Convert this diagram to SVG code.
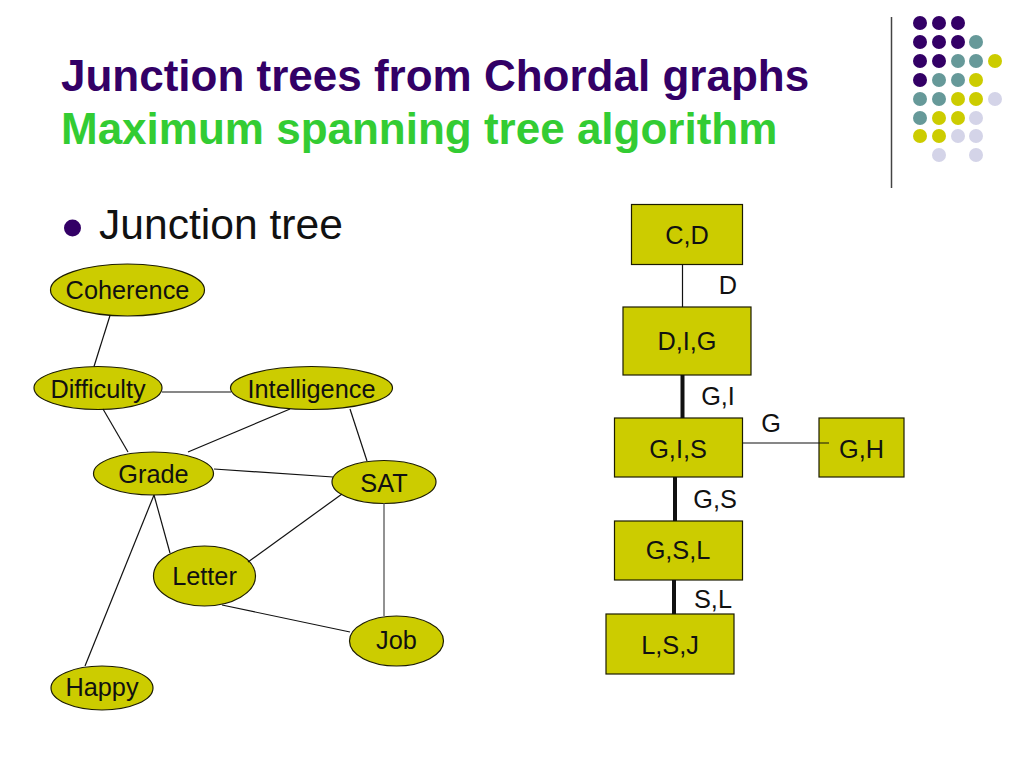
<svg xmlns="http://www.w3.org/2000/svg" width="1024" height="768" viewBox="0 0 1024 768">
<style>
text{font-family:"Liberation Sans",Arial,sans-serif}
.n ellipse,.n rect{fill:#cccc00;stroke:#1c1c00;stroke-width:1.2}
.n text,.l{font-size:25.300px;fill:#111;text-anchor:middle}
.c line{stroke:#111;stroke-width:1.2}
.c line.b{stroke-width:4}
.c line.g{stroke:#777;stroke-width:1.600}
.p{fill:#330066}.t{fill:#669999}.y{fill:#cccc00}.v{fill:#d4d4e8}
</style>
<rect width="1024" height="768" fill="#fff"/>
<text x="61" y="90.500" font-size="44" font-weight="700" fill="#330066">Junction trees from Chordal graphs</text>
<text x="61" y="144" font-size="44" font-weight="700" fill="#33cc33">Maximum spanning tree algorithm</text>
<circle cx="72.500" cy="228" r="8.500" fill="#330066"/>
<text x="99" y="239" font-size="42.600" fill="#111">Junction tree</text>
<g id="decor">
<line x1="891.500" y1="17" x2="891.500" y2="188" stroke="#444" stroke-width="1.500"/>
<g class="p"><circle cx="920" cy="23" r="7"/><circle cx="939" cy="23" r="7"/><circle cx="958" cy="23" r="7"/><circle cx="920" cy="42" r="7"/><circle cx="939" cy="42" r="7"/><circle cx="958" cy="42" r="7"/><circle cx="920" cy="61" r="7"/><circle cx="939" cy="61" r="7"/><circle cx="920" cy="80" r="7"/></g>
<g class="t"><circle cx="976" cy="42" r="7"/><circle cx="958" cy="61" r="7"/><circle cx="976" cy="61" r="7"/><circle cx="939" cy="80" r="7"/><circle cx="958" cy="80" r="7"/><circle cx="920" cy="99" r="7"/><circle cx="939" cy="99" r="7"/><circle cx="920" cy="118" r="7"/></g>
<g class="y"><circle cx="995" cy="61" r="7"/><circle cx="976" cy="80" r="7"/><circle cx="958" cy="99" r="7"/><circle cx="976" cy="99" r="7"/><circle cx="939" cy="118" r="7"/><circle cx="958" cy="118" r="7"/><circle cx="920" cy="136" r="7"/><circle cx="939" cy="136" r="7"/></g>
<g class="v"><circle cx="995" cy="99" r="7"/><circle cx="976" cy="118" r="7"/><circle cx="958" cy="136" r="7"/><circle cx="976" cy="136" r="7"/><circle cx="939" cy="155" r="7"/><circle cx="976" cy="155" r="7"/></g>
</g>
<g id="coherence" class="n"><ellipse cx="127.500" cy="290" rx="77" ry="26"/><text x="127.500" y="299">Coherence</text></g>
<g id="difficulty" class="n"><ellipse cx="98" cy="388" rx="64" ry="21.500"/><text x="98" y="398">Difficulty</text></g>
<g id="intelligence" class="n"><ellipse cx="311.500" cy="388" rx="81" ry="21.500"/><text x="311.500" y="398">Intelligence</text></g>
<g id="grade" class="n"><ellipse cx="153.500" cy="473.500" rx="60" ry="21.500"/><text x="153.500" y="483">Grade</text></g>
<g id="sat" class="n"><ellipse cx="384" cy="482" rx="52" ry="21.500"/><text x="384" y="492">SAT</text></g>
<g id="letter" class="n"><ellipse cx="204.500" cy="576" rx="51" ry="30"/><text x="204.500" y="585">Letter</text></g>
<g id="job" class="n"><ellipse cx="396.500" cy="641" rx="47" ry="25"/><text x="396.500" y="649">Job</text></g>
<g id="happy" class="n"><ellipse cx="102" cy="688" rx="51" ry="22"/><text x="102" y="696">Happy</text></g>
<g id="cd" class="n"><rect x="631.500" y="204.500" width="111" height="60"/><text x="687" y="244">C,D</text></g>
<g id="dig" class="n"><rect x="623" y="307" width="128" height="68"/><text x="687" y="350">D,I,G</text></g>
<g id="gis" class="n"><rect x="614.500" y="418" width="128" height="59"/><text x="678" y="458">G,I,S</text></g>
<g id="gh" class="n"><rect x="819" y="418" width="85" height="59"/><text x="861.500" y="458">G,H</text></g>
<g id="gsl" class="n"><rect x="614.500" y="521" width="128" height="59"/><text x="678" y="559">G,S,L</text></g>
<g id="lsj" class="n"><rect x="606" y="614" width="128" height="60"/><text x="670" y="654">L,S,J</text></g>
<g id="connectors" class="c">
<line x1="110" y1="315.500" x2="94" y2="366.500"/>
<line x1="162" y1="392" x2="231" y2="392"/>
<line x1="103" y1="409" x2="128" y2="452"/>
<line x1="290" y1="409" x2="188" y2="452"/>
<line x1="350" y1="409" x2="367" y2="461"/>
<line x1="214" y1="469" x2="333" y2="477"/>
<line x1="154" y1="495" x2="85" y2="666"/>
<line x1="154" y1="495" x2="170" y2="553"/>
<line x1="342" y1="494" x2="248" y2="562"/>
<line class="g" x1="384" y1="503.500" x2="384" y2="616"/>
<line x1="222" y1="605" x2="350" y2="632"/>
<line x1="682.500" y1="264.500" x2="682.500" y2="307"/>
<line class="b" x1="682.500" y1="375" x2="682.500" y2="418"/>
<line x1="742.500" y1="443" x2="829" y2="443"/>
<line class="b" x1="675" y1="477" x2="675" y2="521"/>
<line class="b" x1="674" y1="580" x2="674" y2="614"/>
</g>
<text class="l" x="728" y="294">D</text>
<text class="l" x="718" y="405">G,I</text>
<text class="l" x="771" y="432">G</text>
<text class="l" x="715" y="508">G,S</text>
<text class="l" x="713" y="608">S,L</text>
</svg>
